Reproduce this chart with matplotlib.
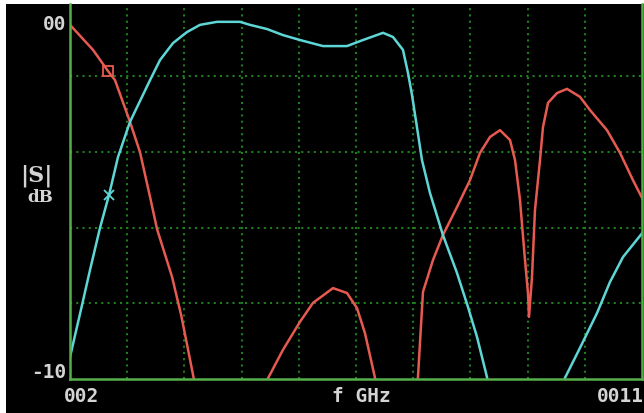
import matplotlib
matplotlib.use("Agg")
import matplotlib.pyplot as plt
from matplotlib.patches import Rectangle

# Reflection trace (red), three visible pieces, frequency in GHz and level in dB
s11_f1 = [2.000, 2.362, 2.598, 2.708, 2.944, 3.101, 3.259, 3.369, 3.605, 3.747, 3.825, 3.983]
s11_db1 = [-0.65, -1.31, -1.87, -2.11, -3.21, -4.01, -5.19, -6.04, -7.30, -8.30, -8.95, -10.29]

s11_f2 = [5.068, 5.100, 5.351, 5.619, 5.823, 6.138, 6.358, 6.516, 6.641, 6.799, 6.830]
s11_db2 = [-10.29, -10.03, -9.23, -8.49, -7.99, -7.60, -7.73, -8.13, -8.79, -9.97, -10.29]

s11_f3 = [7.444, 7.475, 7.554, 7.711, 7.868, 8.089, 8.293, 8.451, 8.608, 8.766, 8.923,
          9.002, 9.080, 9.159, 9.206, 9.222, 9.269, 9.316, 9.395, 9.442, 9.521, 9.663,
          9.820, 10.024, 10.182, 10.449, 10.654, 10.858, 11.016]
s11_db3 = [-10.29, -9.95, -7.70, -6.86, -6.20, -5.46, -4.75, -4.03, -3.61, -3.43, -3.69,
           -4.22, -5.27, -6.86, -7.73, -8.36, -7.31, -5.54, -4.22, -3.35, -2.71, -2.45,
           -2.34, -2.55, -2.90, -3.43, -4.03, -4.75, -5.27]

# Transmission trace (cyan), two visible pieces
s21_f1 = [2.000, 2.189, 2.315, 2.472, 2.614, 2.755, 2.944, 3.133, 3.259, 3.416, 3.621,
          3.841, 4.045, 4.313, 4.675, 4.832, 5.100, 5.351, 5.619, 5.981, 6.358, 6.610,
          6.925, 7.082, 7.239, 7.318, 7.381, 7.459, 7.538, 7.664, 7.868, 8.089, 8.262,
          8.404, 8.561, 8.593]
s21_db1 = [-9.42, -8.05, -7.12, -6.01, -5.14, -4.14, -3.21, -2.55, -2.11, -1.58, -1.13,
           -0.84, -0.65, -0.57, -0.57, -0.65, -0.76, -0.92, -1.05, -1.21, -1.21, -1.05,
           -0.86, -0.97, -1.31, -1.92, -2.50, -3.35, -4.22, -5.09, -6.20, -7.20, -8.10,
           -8.89, -9.95, -10.29]

s21_f2 = [9.741, 9.788, 10.024, 10.292, 10.496, 10.701, 11.016]
s21_db2 = [-10.29, -9.97, -9.18, -8.26, -7.44, -6.78, -6.12]

# Marker positions
marker_s11 = (2.598, -1.87)
marker_s21 = (2.614, -5.14)

# Axis labels as shown on the screen
y_top_label = "00"
y_bottom_label = "-10"
x_left_label = "002"
x_right_label = "0011"
x_unit_label = "f GHz"

W, H = 644, 413
fig = plt.figure(figsize=(W / 100, H / 100), dpi=100, facecolor="white")

# Black screen area (thin white border on left and top)
fig.patches.append(Rectangle((6 / W, 0), 1 - 6 / W, 1 - 4 / H,
                             transform=fig.transFigure, facecolor="black",
                             edgecolor="none", zorder=-10))

ax = fig.add_axes([70 / W, 1 - 379 / H, (642 - 70) / W, (379 - 4) / H])
ax.set_zorder(5)
ax.set_facecolor("black")
ax.set_xlim(2.0, 11.0)
ax.set_ylim(-10, -0.099)

# Grid: 10 x divisions, 5 y divisions
ax.set_xticks([2.0 + 0.9 * i for i in range(1, 10)])
ax.set_yticks([-8, -6, -4, -2])
ax.tick_params(length=0, labelbottom=False, labelleft=False)
ax.grid(True, color="#1f7d1f", linestyle=(0, (1, 2)), linewidth=1.5)

axis_green = "#55b04a"
for side in ["left", "bottom", "right"]:
    ax.spines[side].set_color(axis_green)
    ax.spines[side].set_linewidth(1.8)
ax.spines["top"].set_visible(False)

red = "#e65a52"
cyan = "#5fd6d6"
for f, db in [(s11_f1, s11_db1), (s11_f2, s11_db2), (s11_f3, s11_db3)]:
    ax.plot(f, db, color=red, linewidth=1.8, solid_joinstyle="round")
for f, db in [(s21_f1, s21_db1), (s21_f2, s21_db2)]:
    ax.plot(f, db, color=cyan, linewidth=1.8, solid_joinstyle="round")

ax.plot(*marker_s11, marker="s", markersize=7, markerfacecolor="none",
        markeredgecolor=red, markeredgewidth=1.3)
ax.plot(*marker_s21, marker="x", markersize=7, color=cyan, markeredgewidth=1.3)

# Screen text
txt = "#d4d4d4"
mono = dict(family="DejaVu Sans Mono", weight="bold", size=14, color=txt)


def px(x, y):
    return x / W, 1 - y / H


fig.text(*px(66, 25), y_top_label, ha="right", va="center", **mono)
fig.text(*px(66, 372), y_bottom_label, ha="right", va="center", **mono)
fig.text(*px(64, 396), x_left_label, ha="left", va="center", **mono)
fig.text(*px(644, 396), x_right_label, ha="right", va="center", **mono)
fig.text(*px(361, 397), x_unit_label, ha="center", va="center", **mono)

fig.text(*px(36, 176), "|S|", ha="center", va="center", family="DejaVu Serif",
         weight="bold", size=16, color=txt)
fig.text(*px(40, 198), "dB", ha="center", va="center", family="DejaVu Serif",
         weight="bold", size=12, color=txt)

fig.savefig("out.png", dpi=100, facecolor="white")
